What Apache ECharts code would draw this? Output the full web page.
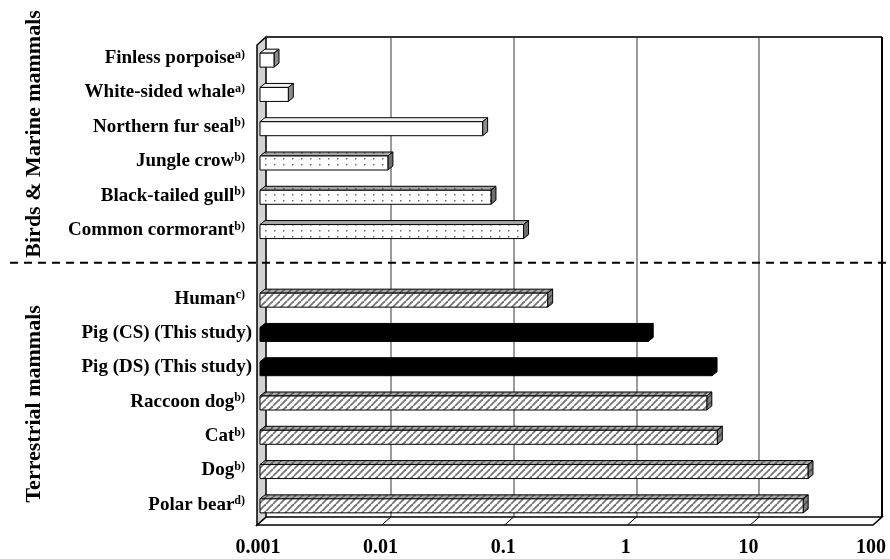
<!DOCTYPE html>
<html>
<head>
<meta charset="utf-8">
<script src="https://cdn.jsdelivr.net/npm/echarts@6/dist/echarts.min.js"></script>
<style>
  html, body { margin: 0; padding: 0; background: #fff; }
  #chart { width: 890px; height: 559px; }
</style>
</head>
<body>
<div id="chart"></div>
<script>
// Species (top to bottom); the empty slot separates the two groups.
const categories = [
  'Finless porpoise', 'White-sided whale', 'Northern fur seal',
  'Jungle crow', 'Black-tailed gull', 'Common cormorant',
  '',
  'Human', 'Pig (CS) (This study)', 'Pig (DS) (This study)',
  'Raccoon dog', 'Cat', 'Dog', 'Polar bear'
];
// Literature reference marks shown after each name
const refs = ['a)', 'a)', 'b)', 'b)', 'b)', 'b)', '', 'c)', '', '', 'b)', 'b)', 'b)', 'd)'];
// Values (log scale)
const values = [0.0013, 0.0017, 0.065, 0.011, 0.076, 0.14, null, 0.22, 1.45, 4.8, 4.35, 5.3, 29, 26.5];
// Fill style of each bar
const kinds = ['plain', 'plain', 'plain', 'dots', 'dots', 'dots', null, 'hatch', 'solid', 'solid', 'hatch', 'hatch', 'hatch', 'hatch'];
// Tick labels of the value axis
const tickLabels = ['0.001', '0.01', '0.1', '1', '10', '100'];
const groupTitles = ['Birds & Marine mammals', 'Terrestrial mammals'];

const AXIS_MIN = 0.001, AXIS_MAX = 100;
const FONT = '"Liberation Serif", "Times New Roman", serif';

// Depth offsets (px) of the pseudo 3D box and bars
const BOX_DX = 9, BOX_DY = 8;      // back wall -> front edge
const WALL_GAP = 2;                // side wall sits just left of the axis origin
const FACE_DX = 8, FACE_DY = 6;    // back wall -> bar front face
const BAR_DX = 5, BAR_DY = 4;      // bar depth
const BAR_H = 14;                  // bar front face height

function makePattern(w, h, bg, draw) {
  const c = document.createElement('canvas');
  c.width = w; c.height = h;
  const g = c.getContext('2d');
  g.fillStyle = bg; g.fillRect(0, 0, w, h);
  draw(g, w, h);
  return { image: c, repeat: 'repeat' };
}
function hatch(bg, fg) {
  return makePattern(7, 7, bg, function (g, w, h) {
    g.strokeStyle = fg; g.lineWidth = 1.8;
    g.beginPath();
    g.moveTo(-1, h + 1); g.lineTo(w + 1, -1);
    g.stroke();
    g.lineWidth = 1.2;
    g.beginPath();
    g.moveTo(-1, 1); g.lineTo(1, -1);
    g.moveTo(w - 1, h + 1); g.lineTo(w + 1, h - 1);
    g.stroke();
  });
}
function dots(bg, fg) {
  return makePattern(9, 6, bg, function (g) {
    g.fillStyle = fg; g.fillRect(4, 2, 1.5, 1.5);
  });
}

const FILLS = {
  plain: { front: '#ffffff', top: '#f2f2f2', side: '#8c8c8c' },
  dots:  { front: dots('#ffffff', '#6a6a6a'), top: dots('#a6a6a6', '#555555'), side: '#6e6e6e' },
  hatch: { front: hatch('#ffffff', '#747474'), top: hatch('#a8a8a8', '#5c5c5c'), side: hatch('#808080', '#505050') },
  solid: { front: '#000000', top: '#000000', side: '#000000' }
};

// Bars: [value, category index]
const barData = [];
values.forEach(function (v, i) { if (v != null) barData.push([v, i]); });

function renderBar(params, api) {
  const v = api.value(0), idx = api.value(1);
  const o = api.coord([AXIS_MIN, idx]);
  const p = api.coord([v, idx]);
  const f = FILLS[kinds[idx]];
  const x0 = o[0] - FACE_DX, x1 = p[0] - FACE_DX;
  const yc = p[1] + FACE_DY;
  const y0 = yc - BAR_H / 2, y1 = yc + BAR_H / 2;
  const stroke = { stroke: '#000', lineWidth: 1 };
  return {
    type: 'group',
    children: [
      { type: 'polygon', shape: { points: [[x0, y0], [x0 + BAR_DX, y0 - BAR_DY], [x1 + BAR_DX, y0 - BAR_DY], [x1, y0]] },
        style: Object.assign({ fill: f.top }, stroke) },
      { type: 'polygon', shape: { points: [[x1, y0], [x1 + BAR_DX, y0 - BAR_DY], [x1 + BAR_DX, y1 - BAR_DY], [x1, y1]] },
        style: Object.assign({ fill: f.side }, stroke) },
      { type: 'rect', shape: { x: x0, y: y0, width: x1 - x0, height: y1 - y0 },
        style: Object.assign({ fill: f.front }, stroke) }
    ]
  };
}

// Walls and floor drawn in the same coordinate system
function renderFrame(params, api) {
  const cs = params.coordSys;
  const L = cs.x, T = cs.y, R = cs.x + cs.width, B = cs.y + cs.height;
  const W = L - WALL_GAP;
  const children = [];
  // the side wall stands in for the grid line at the axis origin
  children.push({ type: 'line', shape: { x1: L, y1: T + 1, x2: L, y2: B }, style: { stroke: '#fff', lineWidth: 2.5 } });
  // floor
  children.push({ type: 'polygon', shape: { points: [[W - BOX_DX, B + BOX_DY], [W, B], [R, B], [R - BOX_DX, B + BOX_DY]] },
    style: { fill: '#fff', stroke: '#000', lineWidth: 1.5 } });
  // floor ticks at each decade
  for (let k = 1; k < tickLabels.length - 1; k++) {
    const px = api.coord([Number(tickLabels[k]), 0])[0];
    children.push({ type: 'line', shape: { x1: px, y1: B, x2: px - BOX_DX, y2: B + BOX_DY },
      style: { stroke: '#000', lineWidth: 1 } });
  }
  // left wall
  children.push({ type: 'polygon', shape: { points: [[W - BOX_DX, T + BOX_DY], [W, T], [W, B], [W - BOX_DX, B + BOX_DY]] },
    style: { fill: '#d3d3d3', stroke: '#000', lineWidth: 1.5 } });
  // back wall top and right edges
  children.push({ type: 'line', shape: { x1: W, y1: T, x2: R, y2: T },
    style: { stroke: '#333', lineWidth: 2 } });
  children.push({ type: 'line', shape: { x1: R, y1: T, x2: R, y2: B },
    style: { stroke: '#000', lineWidth: 2 } });
  return { type: 'group', children: children };
}

function renderSeparator(params, api) {
  const y = api.coord([AXIS_MIN, 6])[1] + 3;
  return { type: 'line', shape: { x1: 10, y1: y, x2: 886, y2: y },
    style: { stroke: '#000', lineWidth: 2, lineDash: [8, 6] } };
}

const chart = echarts.init(document.getElementById('chart'), null, { renderer: 'canvas' });
chart.setOption({
  animation: false,
  backgroundColor: '#fff',
  grid: [
    { left: 268, right: 8, top: 37, bottom: 42 },   // back wall
    { left: 258, right: 19, top: 41, bottom: 37 }   // front plane (labels)
  ],
  xAxis: [
    { type: 'log', logBase: 10, min: AXIS_MIN, max: AXIS_MAX, gridIndex: 0,
      axisLine: { show: false }, axisTick: { show: false }, axisLabel: { show: false },
      splitLine: { show: true, lineStyle: { color: '#7a7a7a', width: 1.5 } } },
    { type: 'log', logBase: 10, min: AXIS_MIN, max: AXIS_MAX, gridIndex: 1,
      axisLine: { show: false }, axisTick: { show: false }, splitLine: { show: false },
      axisLabel: { margin: 16, fontFamily: FONT, fontWeight: 'bold', fontSize: 20, color: '#000',
        formatter: function (val) {
          const k = Math.round(Math.log10(val) - Math.log10(AXIS_MIN));
          return tickLabels[k] !== undefined ? tickLabels[k] : '';
        } } }
  ],
  yAxis: [
    { type: 'category', data: categories, inverse: true, gridIndex: 0,
      axisLine: { show: false }, axisTick: { show: false }, axisLabel: { show: false }, splitLine: { show: false } },
    { type: 'category', data: categories, inverse: true, gridIndex: 1,
      axisLine: { show: false }, axisTick: { show: false }, splitLine: { show: false },
      axisLabel: { margin: 6, interval: 0,
        formatter: function (val, i) {
          if (!val) return '';
          return refs[i] ? '{n|' + val + '}{s|' + refs[i] + '}' : '{n|' + val + '}';
        },
        rich: {
          n: { fontFamily: FONT, fontWeight: 'bold', fontSize: 19, color: '#000' },
          s: { fontFamily: FONT, fontWeight: 'bold', fontSize: 12, color: '#000', verticalAlign: 'top', padding: [0, 7, 0, 0] }
        } } }
  ],
  series: [
    { type: 'custom', coordinateSystem: 'cartesian2d', xAxisIndex: 0, yAxisIndex: 0, z: 1,
      renderItem: renderFrame, data: [[AXIS_MIN, 0]], silent: true },
    { type: 'custom', coordinateSystem: 'cartesian2d', xAxisIndex: 0, yAxisIndex: 0, z: 2,
      renderItem: renderBar, data: barData, silent: true },
    { type: 'custom', coordinateSystem: 'cartesian2d', xAxisIndex: 0, yAxisIndex: 0, z: 3,
      renderItem: renderSeparator, data: [[AXIS_MIN, 6]], silent: true }
  ]
});

// Vertical group titles, centred on each group of rows
function placeTitles() {
  const ySep = chart.convertToPixel({ xAxisIndex: 0, yAxisIndex: 0 }, [AXIS_MIN, 6])[1];
  const yBot = chart.convertToPixel({ xAxisIndex: 0, yAxisIndex: 0 }, [AXIS_MIN, 13])[1];
  const c1 = (8 + ySep) / 2, c2 = (ySep + yBot + 48) / 2;
  chart.setOption({
    graphic: [
      { type: 'text', id: 'g1', x: 34, y: c1, rotation: Math.PI / 2,
        style: { text: groupTitles[0], font: 'bold 22px ' + FONT, fill: '#000', align: 'center', verticalAlign: 'middle' } },
      { type: 'text', id: 'g2', x: 34, y: c2, rotation: Math.PI / 2,
        style: { text: groupTitles[1], font: 'bold 22px ' + FONT, fill: '#000', align: 'center', verticalAlign: 'middle' } }
    ]
  });
}
placeTitles();
</script>
</body>
</html>
